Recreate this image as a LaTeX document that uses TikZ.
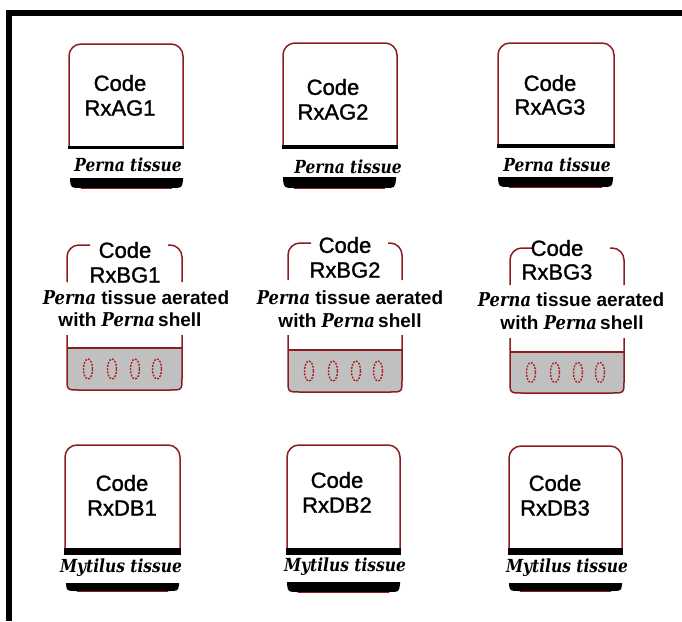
\documentclass[tikz,border=0pt]{standalone}
\usepackage{fontspec}
\usepackage{graphicx}
\setmainfont{Liberation Sans}
\newfontfamily\pernaf{DejaVu Serif}
\newfontfamily\codef{Liberation Sans}[BoldFont={Liberation Sans}, BoldFeatures={FakeBold=1.3}]
\usetikzlibrary{calc}

\definecolor{boxred}{RGB}{140,28,32}
\definecolor{dotred}{RGB}{175,25,25}
\definecolor{fillgray}{RGB}{192,192,192}

% genus names in a heavy, slightly narrowed italic serif
\newcommand\gen[1]{\scalebox{0.86}[1]{\pernaf\bfseries\itshape #1}}

% open-topped box with rounded upper corners and a dark band at its foot
% #1 left, #2 right, #3 top, #4 bottom, #5 band thickness
\newcommand\tissuebox[5]{%
  \draw[vessel, rounded corners=12] (#1,#4) -- (#1,#3) -- (#2,#3) -- (#2,#4);
  \fill[black] (#1-0.7,#4) rectangle (#2+0.7,#4+#5);
}

% black foot plate with rounded lower edge
% #1 left, #2 right, #3 top, #4 bottom
\newcommand\footplate[4]{%
  \fill[black] (#1,#3) -- (#2,#3) -- (#2,#3+2) .. controls (#2-1,#4) .. (#2-11,#4)
    -- (#1+11,#4) .. controls (#1+1,#4) .. (#1,#3+2) -- cycle;
  \draw[boxred, line width=0.9pt] (#1+11,#4) -- (#2-11,#4);
}

% aeration vessel: broken outline, grey liquid with four bubbles
% #1 left, #2 right, #3 top, #4 gap start, #5 gap end, #6 liquid top, #7 bottom
\newcommand\aerbox[7]{%
  \fill[fillgray] (#1,#6) -- (#1,#7-12) .. controls (#1,#7) .. (#1+12,#7)
    -- (#2-12,#7) .. controls (#2,#7) .. (#2,#7-12) -- (#2,#6) -- cycle;
  \draw[vessel] (#1,#5) -- (#1,#7-12) .. controls (#1,#7) .. (#1+12,#7)
    -- (#2-12,#7) .. controls (#2,#7) .. (#2,#7-12) -- (#2,#5);
  \draw[vessel] (#1,#6) -- (#2,#6);
  \draw[vessel, rounded corners=12] (#1+23,#3) -- (#1,#3) -- (#1,#4);
  \draw[vessel, rounded corners=12] (#2-14,#3) -- (#2,#3) -- (#2,#4);
  \foreach \dx in {21,45,68,90}
    \draw[bubble] (#1+\dx,{(#6+#7)/2}) ellipse [x radius=4.5, y radius=10];
}

\begin{document}
\begin{tikzpicture}[x=1pt, y=-1pt,
  vessel/.style={draw=boxred, line width=1.5pt},
  bubble/.style={draw=dotred, line width=1.4pt, dash pattern=on 1.8pt off 1.4pt},
  codetext/.style={font=\fontsize{22}{26}\selectfont\codef\bfseries, inner sep=0pt},
  tissuelabel/.style={font=\fontsize{18}{20}\selectfont, inner sep=0pt},
  aertext/.style={font=\fontsize{19}{22}\selectfont\bfseries, inner sep=0pt}]

\useasboundingbox (0,0) rectangle (682,621);
\fill[white] (0,0) rectangle (682,621);

% frame along the top and left
\fill[black] (6,10) rectangle (682,16);
\fill[black] (6,10) rectangle (12,621);

% ---- first row: Perna tissue ----
\tissuebox{69}{183}{44}{146}{2.5}
\footplate{70}{183}{178}{188}
\node[codetext] (a1code) at (120,83) {Code};
\node[codetext] (a1id) at (120,108) {RxAG1};
\node[tissuelabel] (a1lab) at (128,165) {\gen{Perna tissue}};

\tissuebox{283}{397}{43}{145}{4}
\footplate{283}{396}{177}{188}
\node[codetext] (a2code) at (333,87) {Code};
\node[codetext] (a2id) at (333,112) {RxAG2};
\node[tissuelabel] (a2lab) at (348,167) {\gen{Perna tissue}};

\tissuebox{498}{614}{43}{144}{4}
\footplate{498}{613}{177}{187}
\node[codetext] (a3code) at (550,83) {Code};
\node[codetext] (a3id) at (550,107) {RxAG3};
\node[tissuelabel] (a3lab) at (557,165) {\gen{Perna tissue}};

% ---- second row: aerated with shell ----
\aerbox{67}{182}{245}{282}{335}{348}{390}
\node[codetext] (b1code) at (125,250) {Code};
\node[codetext] (b1id) at (125,275) {RxBG1};
\node[aertext] (b1l1) at (136,298) {\gen{Perna} tissue aerated};
\node[aertext] (b1l2) at (130,320) {with \gen{Perna}\,shell};

\aerbox{288}{402}{243}{280}{335}{350}{392}
\node[codetext] (b2code) at (345,245) {Code};
\node[codetext] (b2id) at (345,270) {RxBG2};
\node[aertext] (b2l1) at (350,298) {\gen{Perna} tissue aerated};
\node[aertext] (b2l2) at (350,321) {with \gen{Perna}\,shell};

\aerbox{510}{624}{248}{285}{338}{352}{393}
\node[codetext] (b3code) at (557,248) {Code};
\node[codetext] (b3id) at (557,272) {RxBG3};
\node[aertext] (b3l1) at (571,300) {\gen{Perna} tissue aerated};
\node[aertext] (b3l2) at (572,323) {with \gen{Perna}\,shell};

% ---- third row: Mytilus tissue ----
\tissuebox{65}{180}{445}{548}{7}
\footplate{66}{179}{583}{591}
\node[codetext] (c1code) at (122,483) {Code};
\node[codetext] (c1id) at (122,508) {RxDB1};
\node[tissuelabel] (c1lab) at (121,568) {\gen{Mytilus tissue}};

\tissuebox{287}{400}{445}{548}{7}
\footplate{287}{400}{582}{592}
\node[codetext] (c2code) at (337,480) {Code};
\node[codetext] (c2id) at (337,505) {RxDB2};
\node[tissuelabel] (c2lab) at (345,567) {\gen{Mytilus tissue}};

\tissuebox{509}{622}{446}{548}{7}
\footplate{509}{622}{583}{591}
\node[codetext] (c3code) at (555,483) {Code};
\node[codetext] (c3id) at (555,508) {RxDB3};
\node[tissuelabel] (c3lab) at (567,568) {\gen{Mytilus tissue}};

\end{tikzpicture}
\end{document}
